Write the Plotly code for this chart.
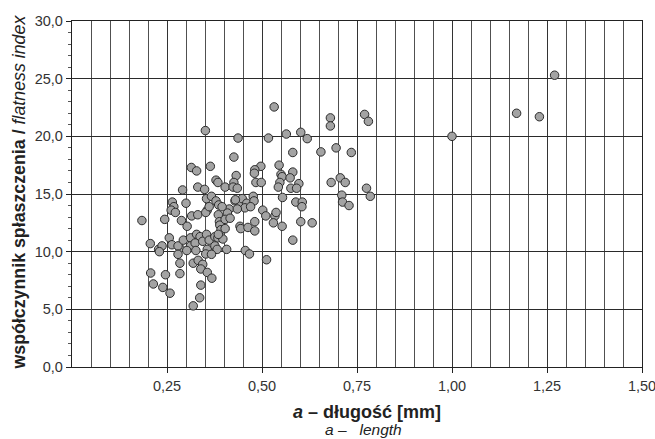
import plotly.graph_objects as go

# particle length a [mm]
length_mm = [
    1.27, 1.17, 1.23, 1.00, 0.68, 0.68, 0.77, 0.78, 0.695, 0.735, 0.655, 0.602, 0.619,
    0.532, 0.437, 0.517, 0.564, 0.581, 0.426, 0.497, 0.545, 0.351, 0.314, 0.328, 0.364,
    0.481, 0.48, 0.432, 0.55, 0.581, 0.553, 0.574, 0.379, 0.384, 0.426, 0.484, 0.498,
    0.547, 0.682, 0.706, 0.719, 0.775, 0.785, 0.71, 0.712, 0.729, 0.597, 0.576, 0.591,
    0.543, 0.291, 0.331, 0.349, 0.403, 0.424, 0.435,
    0.30, 0.354, 0.367, 0.379, 0.386, 0.429, 0.414, 0.442, 0.448, 0.46, 0.455, 0.477,
    0.479, 0.470, 0.554, 0.589, 0.606, 0.605, 0.264, 0.268, 0.261, 0.272, 0.502, 0.51,
    0.534, 0.537, 0.315, 0.331, 0.356, 0.352, 0.385, 0.435, 0.43, 0.361, 0.409, 0.395,
    0.184, 0.244, 0.288, 0.303, 0.388, 0.389, 0.392, 0.403, 0.416, 0.442, 0.444, 0.463,
    0.481, 0.481, 0.53, 0.553, 0.602, 0.632, 0.581, 0.512,
    0.206, 0.228, 0.237, 0.256, 0.263, 0.284, 0.279, 0.293, 0.312, 0.312, 0.302, 0.328,
    0.337, 0.324, 0.344, 0.354, 0.361, 0.376, 0.384, 0.397, 0.356, 0.376, 0.382, 0.407,
    0.456, 0.467, 0.326, 0.23, 0.279, 0.352, 0.367, 0.385, 0.403,
    0.284, 0.207, 0.214, 0.246, 0.239, 0.258, 0.284, 0.319, 0.332, 0.344, 0.339, 0.356,
    0.368, 0.339, 0.336, 0.319,
]

# flatness index
flatness = [
    25.3, 22.0, 21.7, 20.0, 21.6, 20.9, 21.9, 21.3, 19.0, 18.6, 18.65, 20.35, 19.8,
    22.55, 19.85, 19.85, 20.2, 18.6, 18.2, 17.4, 17.5, 20.5, 17.3, 17.0, 17.4,
    17.1, 16.8, 16.6, 16.7, 16.9, 16.5, 16.4, 16.2, 16.0, 16.0, 16.0, 16.0,
    16.0, 16.0, 16.4, 16.0, 15.5, 14.8, 14.9, 14.3, 14.0, 15.9, 15.5, 15.5,
    15.6, 15.35, 15.6, 15.4, 15.6, 15.6, 15.5,
    14.2, 14.6, 14.8, 14.4, 14.05, 14.4, 13.7, 14.1, 14.6, 14.2, 13.8, 14.8,
    14.4, 13.9, 14.7, 14.3, 14.3, 13.9, 14.3, 13.9, 13.6, 13.4, 13.6, 13.1,
    13.1, 13.4, 13.1, 13.2, 13.6, 13.4, 13.2, 13.7, 14.5, 13.9, 13.35, 13.9,
    12.7, 12.8, 12.7, 12.2, 12.6, 12.3, 11.9, 12.8, 12.9, 12.2, 12.0, 12.1,
    12.6, 11.8, 12.5, 12.2, 12.6, 12.5, 11.0, 9.3,
    10.7, 10.2, 10.5, 11.2, 10.6, 10.3, 10.5, 11.0, 11.2, 10.5, 10.1, 11.5,
    11.3, 10.75, 10.9, 11.5, 11.0, 11.3, 11.2, 11.1, 10.2, 10.5, 10.2, 10.2,
    10.1, 9.8, 10.1, 10.0, 9.77, 9.8, 9.77, 11.5, 12.0,
    9.0, 8.15, 7.2, 8.0, 6.9, 6.4, 8.1, 9.0, 9.25, 8.9, 8.5, 8.2,
    7.7, 7.1, 6.0, 5.3,
]

x_tick_vals = [0.25, 0.50, 0.75, 1.00, 1.25, 1.50]
y_tick_vals = [0, 5, 10, 15, 20, 25, 30]

FONT = "Arial, Liberation Sans, Helvetica, sans-serif"
NB = "\u00a0"

fig = go.Figure()
fig.add_trace(go.Scatter(
    x=length_mm, y=flatness, mode="markers",
    marker=dict(size=8.5, color="#a3a3a3", line=dict(color="#2b2b2b", width=1)),
    showlegend=False, hoverinfo="x+y",
))

fig.update_layout(
    width=655, height=439,
    margin=dict(l=72, r=13, t=21, b=72, autoexpand=False),
    paper_bgcolor="white", plot_bgcolor="white",
    separators=", ",
    font=dict(family=FONT, size=14, color="#333333"),
    xaxis=dict(
        range=[0, 1.5], tickmode="array", tickvals=x_tick_vals, tickformat=".2f",
        ticks="outside", ticklen=5, tickcolor="#222", tickwidth=1,
        ticklabeloverflow="allow", automargin=False,
        showgrid=True, gridcolor="#333333", gridwidth=1,
        minor=dict(dtick=0.05, tick0=0, showgrid=True, gridcolor="#505050", gridwidth=1, ticks=""),
        showline=True, linecolor="#222222", linewidth=1.3, mirror=True,
        zeroline=False, tickfont=dict(size=14.5, color="#333333"),
    ),
    yaxis=dict(
        range=[0, 30], tickmode="array", tickvals=y_tick_vals, tickformat=".1f",
        ticks="outside", ticklen=5, tickcolor="#222", tickwidth=1,
        ticklabeloverflow="allow", automargin=False,
        showgrid=True, gridcolor="#2a2a2a", gridwidth=1.4,
        minor=dict(dtick=1, tick0=0, ticks="outside", ticklen=3, tickcolor="#555", showgrid=False),
        showline=True, linecolor="#222222", linewidth=1.3, mirror=True,
        zeroline=False, tickfont=dict(size=14.5, color="#333333"),
    ),
    annotations=[
        dict(xref="paper", yref="paper", x=-0.093, y=0.507, textangle=-90,
             xanchor="center", yanchor="middle", showarrow=False,
             text="<b>współczynnik spłaszczenia /</b> <i>flatness index</i>",
             font=dict(family=FONT, size=17.8, color="#222222")),
        dict(xref="paper", yref="paper", x=0.518, y=-0.130,
             xanchor="center", yanchor="middle", showarrow=False,
             text="<b><i>a</i> – długość [mm]</b>",
             font=dict(family=FONT, size=18, color="#222222")),
        dict(xref="paper", yref="paper", x=0.440, y=-0.182,
             xanchor="left", yanchor="middle", showarrow=False,
             text=f"<i>a –{NB}{NB}{NB}length</i>",
             font=dict(family=FONT, size=15.5, color="#222222")),
    ],
)

fig.write_html(
    "out.html",
    config={"displayModeBar": False},
    post_script="document.body.style.margin='0';document.body.style.overflow='hidden';",
)
